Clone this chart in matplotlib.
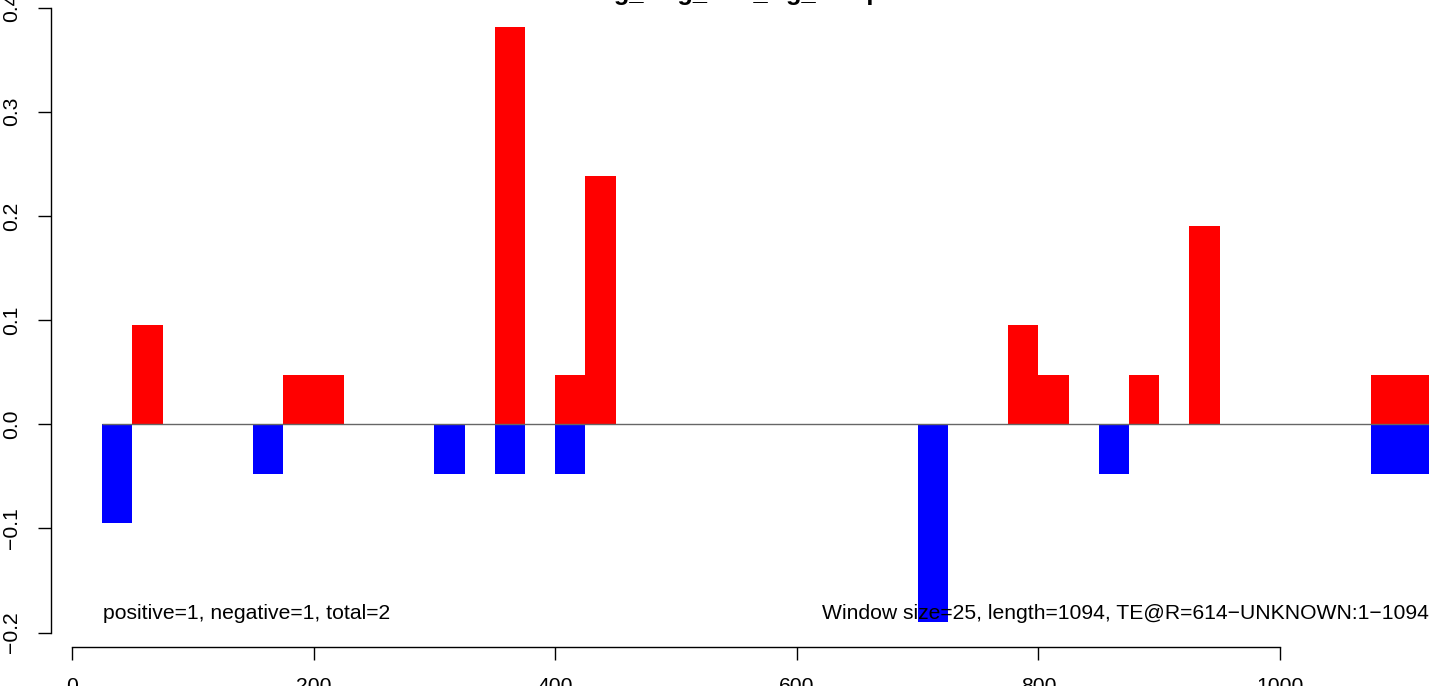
#!/usr/bin/env python3

import matplotlib
matplotlib.use("Agg")
import matplotlib.pyplot as plt

plt.rcParams['font.family'] = ['Liberation Sans', 'DejaVu Sans']

# window starts (bp) and scores, window size 25
window_size = 25
pos_starts = [50, 175, 200, 350, 400, 425, 775, 800, 875, 925, 1075, 1100]
pos_values = [0.0952, 0.0476, 0.0476, 0.381, 0.0476, 0.238, 0.0952, 0.0476,
              0.0476, 0.190, 0.0476, 0.0476]
neg_starts = [25, 150, 300, 350, 400, 700, 850, 1075, 1100]
neg_values = [-0.0952, -0.0476, -0.0476, -0.0476, -0.0476, -0.190, -0.0476,
              -0.0476, -0.0476]

x_ticks = [0, 200, 400, 600, 800, 1000]
y_ticks = [-0.2, -0.1, 0.0, 0.1, 0.2, 0.3, 0.4]

title = "Mng_Aog_TEs_Rg_sample"
left_note = "positive=1, negative=1, total=2"
right_note = "Window size=25, length=1094, TE@R=614\u2212UNKNOWN:1\u22121094"

FS = 15.2
W, H = 1429, 686
fig = plt.figure(figsize=(W / 100, H / 100), dpi=100)
ax = fig.add_axes([51 / W, (H - 647) / H, 1 - 51 / W, 647 / H])

ax.bar(neg_starts, neg_values, width=window_size, align='edge',
       color='blue', linewidth=0)
ax.bar(pos_starts, pos_values, width=window_size, align='edge',
       color='red', linewidth=0)
ax.hlines(0, 25, 1125, color='#666666', linewidth=1.0, zorder=1)

ax.text(26, -0.182, left_note, ha='left', va='center', fontsize=FS)
ax.text(1123, -0.182, right_note, ha='right', va='center', fontsize=FS)

ax.set_xlim(-17.4, 1123.3)
ax.set_ylim(-0.2139, 0.4072)

for side in ['top', 'right']:
    ax.spines[side].set_visible(False)
ax.spines['left'].set_bounds(-0.2, 0.4)
ax.spines['bottom'].set_bounds(0, 1000)
ax.spines['left'].set_linewidth(1.0)
ax.spines['bottom'].set_linewidth(1.0)

ax.set_xticks(x_ticks)
ax.set_xticklabels([str(t) for t in x_ticks])
ax.set_yticks(y_ticks)
ax.set_yticklabels(["\u22120.2", "\u22120.1", "0.0", "0.1", "0.2", "0.3", "0.4"],
                   rotation=90, va='center')
ax.tick_params(axis='both', length=9.4, width=1.0, labelsize=FS)
ax.tick_params(axis='x', pad=12)
ax.tick_params(axis='y', pad=12)

fig.text(0.518, 1.0, title, ha='center', va='baseline',
         fontsize=FS * 1.2, fontweight='bold')

fig.savefig("out.png", dpi=100)
